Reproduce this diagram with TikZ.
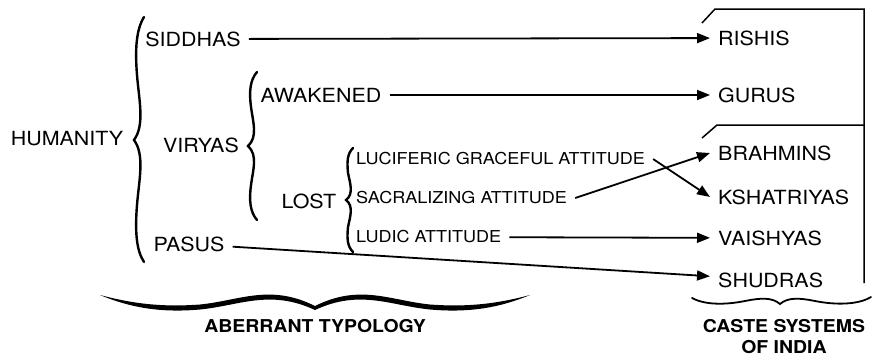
\documentclass[tikz,border=0pt]{standalone}
\usepackage{fontspec}
\setmainfont{TeX Gyre Heros}[FakeStretch=1.1]
\usepackage{tikz}
\usetikzlibrary{arrows.meta,positioning}

\begin{document}
\begin{tikzpicture}[x=1pt, y=-1pt,
        word/.style={font=\fontsize{19.5}{22}\selectfont, inner xsep=8pt, inner ysep=2pt},
        attitude/.style={word, font=\fontsize{16.4}{19}\selectfont, anchor=west},
        caste/.style={word, anchor=west},
        groupname/.style={font=\bfseries\fontsize{17.7}{21}\selectfont, align=center},
        arrow/.style={-{Triangle[length=13pt,width=10pt]}, line width=1.8pt},
        brace/.style={line width=2.4pt, line cap=round},
        frame/.style={line width=1.5pt}
    ]
    \useasboundingbox (0,0) rectangle (873,362);
    % left side
    \node[word] (humanity) at (67,139) {HUMANITY};
    \node[word] (siddhas) at (193,39) {SIDDHAS};
    \node[word] (viryas) at (201,145) {VIRYAS};
    \node[word] (pasus) at (189,244) {PASUS};
    \node[word] (awakened) at (321,95) {AWAKENED};
    \node[word] (lost) at (309,201) {LOST};
    \node[attitude] (luciferic) at (348,159) {LUCIFERIC GRACEFUL ATTITUDE};
    \node[attitude] (sacral) at (348,198) {SACRALIZING ATTITUDE};
    \node[attitude] (ludic) at (348,237) {LUDIC ATTITUDE};
    % right side
    \node[caste] (rishis) at (710,38) {RISHIS};
    \node[caste] (gurus) at (710,95) {GURUS};
    \node[caste] (brahmins) at (710,153) {BRAHMINS};
    \node[caste] (kshatriyas) at (710,197) {KSHATRIYAS};
    \node[caste] (vaishyas) at (710,238) {VAISHYAS};
    \node[caste] (shudras) at (710,280) {SHUDRAS};
    \node[groupname] (aberrant) at (315,326) {ABERRANT TYPOLOGY};
    \node[groupname] (castesys) at (784,337) {CASTE SYSTEMS\\OF INDIA};

    % braces
    \draw[brace] (144,17) .. controls (136,30) and (135,50) .. (137,75) .. controls (139,100) and (145,125) .. (134,140)
        .. controls (145,155) and (139,180) .. (137,205) .. controls (135,230) and (136,250) .. (144,262);
    \draw[brace] (257,72) .. controls (250,80) and (249,92) .. (251,107) .. controls (253,122) and (258,137) .. (248,146)
        .. controls (258,155) and (253,170) .. (251,185) .. controls (249,200) and (250,212) .. (257,220);
    \draw[brace] (353,148) .. controls (347,154) and (347,162) .. (348,173) .. controls (350,183) and (354,194) .. (346,200)
        .. controls (354,206) and (350,217) .. (348,227) .. controls (347,238) and (347,246) .. (353,252);
    \fill (100,295) .. controls (130,303) and (160,307.5) .. (200,304.5)
        .. controls (240,300.5) and (270,283.5) .. (315,306)
        .. controls (360,283.5) and (390,300.5) .. (430,304.5)
        .. controls (470,307.5) and (500,303) .. (530,295)
        .. controls (500,307.5) and (470,313) .. (430,309.5)
        .. controls (390,305.5) and (360,289) .. (315,310)
        .. controls (270,289) and (240,305.5) .. (200,309.5)
        .. controls (160,313) and (130,307.5) .. (100,295) -- cycle;
    \draw[brace, line width=1.8pt] (692,298) .. controls (705,305) and (725,305) .. (745,301) .. controls (760,298) and (772,297) .. (780,304)
        .. controls (788,297) and (800,298) .. (815,301) .. controls (835,305) and (858,305) .. (871,297);

    % bracket of the castes
    \draw[frame] (702,23) -- (715,9) -- (864,9) -- (864,283);
    \draw[frame] (702,138) -- (717,125) -- (864,125);

    % arrows
    \draw[arrow] (siddhas) -- (rishis);
    \draw[arrow] (awakened) -- (gurus);
    \draw[arrow] (luciferic.east) -- (kshatriyas.west);
    \draw[arrow] (sacral.east) -- (brahmins.west);
    \draw[arrow] (ludic) -- (vaishyas);
    \draw[arrow] (pasus) -- (shudras);
\end{tikzpicture}
\end{document}
